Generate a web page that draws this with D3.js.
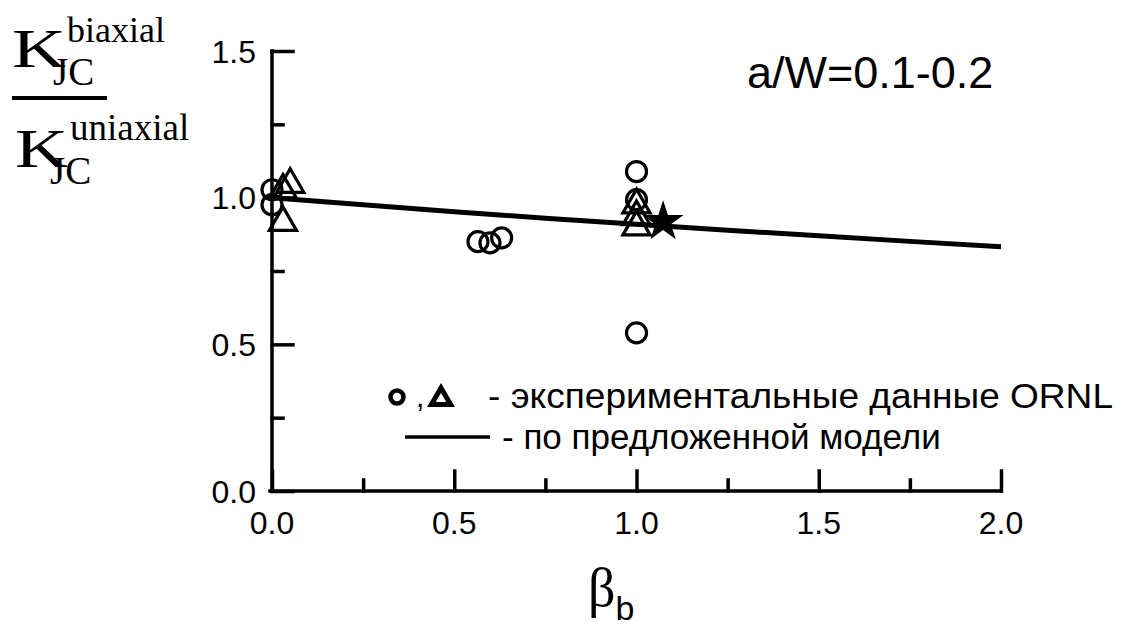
<!DOCTYPE html>
<html>
<head>
<meta charset="utf-8">
<script src="https://cdn.jsdelivr.net/npm/d3@7"></script>
<style>
  body { margin: 0; background: #fff; }
  svg { display: block; }
  text { fill: #000; }
</style>
</head>
<body>
<svg id="svg" width="1138" height="626"></svg>
<script>
// ---- //
// Data //
// ---- //

// beta_b values of the ORNL tests and the ratio K_JC(biaxial)/K_JC(uniaxial)
const circles = [
  [0.0, 1.027], [0.0, 0.976],
  [0.565, 0.85], [0.598, 0.846], [0.63, 0.863],
  [1.0, 1.089], [1.0, 0.993], [1.0, 0.539]
];
const triangles = [
  [0.05, 1.045], [0.03, 1.025], [0.03, 0.915],
  [1.0, 0.975], [1.0, 0.935], [1.0, 0.9]
];
const star = [[1.073, 0.918]];
// proposed model curve
const model = [
  [0.0, 1.0], [0.25, 0.976], [0.5, 0.952], [0.75, 0.93], [1.0, 0.909],
  [1.25, 0.889], [1.5, 0.87], [1.75, 0.851], [2.0, 0.833]
];
const xTicks = [0, 0.5, 1.0, 1.5, 2.0];
const xMinor = [0.25, 0.75, 1.25, 1.75];
const yTicks = [0, 0.5, 1.0, 1.5];
const yMinor = [0.25, 0.75, 1.25];

// ------ //
// Scales //
// ------ //

const x = d3.scaleLinear().domain([0, 2]).range([272, 1001]);
const y = d3.scaleLinear().domain([0, 1.5]).range([491, 51]);

const svg = d3.select("#svg");
const sans = "'Liberation Sans', Arial, sans-serif";
const serif = "'Liberation Serif', 'Times New Roman', serif";

// ---- //
// Axes //
// ---- //

// x axis, ticks pointing inward
const gx = svg.append("g").attr("transform", `translate(0,${y(0)})`);
gx.call(d3.axisTop(x).tickValues(xTicks).tickSize(20).tickFormat(""));
gx.append("g").call(d3.axisTop(x).tickValues(xMinor).tickSize(11).tickFormat(""));
gx.selectAll("path.domain").attr("d", `M${x(0) - 2},0H${x(2)}`);
gx.selectAll(".tick text").remove();
gx.selectAll("path.domain").filter((d, i) => i > 0).remove();

// y axis
const gy = svg.append("g").attr("transform", `translate(${x(0)},0)`);
gy.call(d3.axisRight(y).tickValues(yTicks).tickSize(21).tickFormat(""));
gy.append("g").call(d3.axisRight(y).tickValues(yMinor).tickSize(11).tickFormat(""));
gy.selectAll("path.domain").filter((d, i) => i > 0).remove();
gy.select("path.domain").attr("d", `M0,${y(0)}V${y(1.5)}`);

svg.selectAll(".domain, .tick line")
  .attr("stroke", "#000")
  .attr("stroke-width", 3.5)
  .attr("stroke-linecap", "square");

// tick labels
svg.append("g").selectAll("text")
  .data(xTicks)
  .join("text")
  .attr("x", d => x(d))
  .attr("y", y(0) + 43)
  .attr("text-anchor", "middle")
  .attr("font-family", sans)
  .attr("font-size", 32)
  .text(d => d.toFixed(1));

svg.append("g").selectAll("text")
  .data(yTicks)
  .join("text")
  .attr("x", x(0) - 16)
  .attr("y", d => y(d))
  .attr("dy", "0.36em")
  .attr("text-anchor", "end")
  .attr("font-family", sans)
  .attr("font-size", 32)
  .text(d => d.toFixed(1));

// ------ //
// Titles //
// ------ //

// y label as a fraction
const yl = svg.append("g").attr("font-family", serif);
yl.append("text").attr("x", 12).attr("y", 67).attr("font-size", 54)
  .attr("textLength", 54).attr("lengthAdjust", "spacingAndGlyphs").text("K");
yl.append("text").attr("x", 67).attr("y", 42).attr("font-size", 36).text("biaxial");
yl.append("text").attr("x", 53).attr("y", 85).attr("font-size", 39).text("JC");
yl.append("line").attr("x1", 12).attr("x2", 107).attr("y1", 98).attr("y2", 98)
  .attr("stroke", "#000").attr("stroke-width", 4);
yl.append("text").attr("x", 15).attr("y", 167).attr("font-size", 54)
  .attr("textLength", 53).attr("lengthAdjust", "spacingAndGlyphs").text("K");
yl.append("text").attr("x", 70).attr("y", 140).attr("font-size", 37).text("uniaxial");
yl.append("text").attr("x", 50).attr("y", 184).attr("font-size", 39).text("JC");

// x label
const xl = svg.append("text").attr("x", 588).attr("y", 606);
xl.append("tspan").attr("font-family", serif).attr("font-size", 54).text("β");
xl.append("tspan").attr("font-family", sans).attr("font-size", 34).attr("dy", 14).text("b");

svg.append("text")
  .attr("x", 747).attr("y", 88)
  .attr("font-family", sans)
  .attr("font-size", 45)
  .text("a/W=0.1-0.2");

// ----- //
// Marks //
// ----- //

const line = d3.line().x(d => x(d[0])).y(d => y(d[1]));
svg.append("path")
  .datum(model)
  .attr("d", line)
  .attr("fill", "none")
  .attr("stroke", "#000")
  .attr("stroke-width", 5);

svg.append("g").selectAll("circle")
  .data(circles)
  .join("circle")
  .attr("cx", d => x(d[0]))
  .attr("cy", d => y(d[1]))
  .attr("r", 10)
  .attr("fill", "none")
  .attr("stroke", "#000")
  .attr("stroke-width", 3.2);

const tri = d3.symbol().type(d3.symbolTriangle).size(320);
svg.append("g").selectAll("path")
  .data(triangles)
  .join("path")
  .attr("transform", d => `translate(${x(d[0])},${y(d[1])})`)
  .attr("d", tri)
  .attr("fill", "none")
  .attr("stroke", "#000")
  .attr("stroke-width", 3.2);

svg.append("g").selectAll("path")
  .data(star)
  .join("path")
  .attr("transform", d => `translate(${x(d[0])},${y(d[1])})`)
  .attr("d", d3.symbol().type(d3.symbolStar).size(520))
  .attr("fill", "#000");

// ------ //
// Legend //
// ------ //

const lg = svg.append("g").attr("font-family", sans).attr("font-size", 35);
lg.append("circle").attr("cx", 397).attr("cy", 397).attr("r", 6.5)
  .attr("fill", "none").attr("stroke", "#000").attr("stroke-width", 4.5);
lg.append("text").attr("x", 416).attr("y", 407).attr("font-size", 30).text(",");
lg.append("path")
  .attr("transform", "translate(441,399)")
  .attr("d", d3.symbol().type(d3.symbolTriangle).size(160))
  .attr("fill", "none").attr("stroke", "#000").attr("stroke-width", 5)
  .attr("stroke-linejoin", "miter");
lg.append("text").attr("x", 488).attr("y", 408)
  .attr("textLength", 625).attr("lengthAdjust", "spacingAndGlyphs")
  .text("- экспериментальные данные ORNL");
lg.append("line").attr("x1", 405).attr("x2", 490).attr("y1", 437).attr("y2", 437)
  .attr("stroke", "#000").attr("stroke-width", 3.5);
lg.append("text").attr("x", 502).attr("y", 449).text("- по предложенной модели");
</script>
</body>
</html>
